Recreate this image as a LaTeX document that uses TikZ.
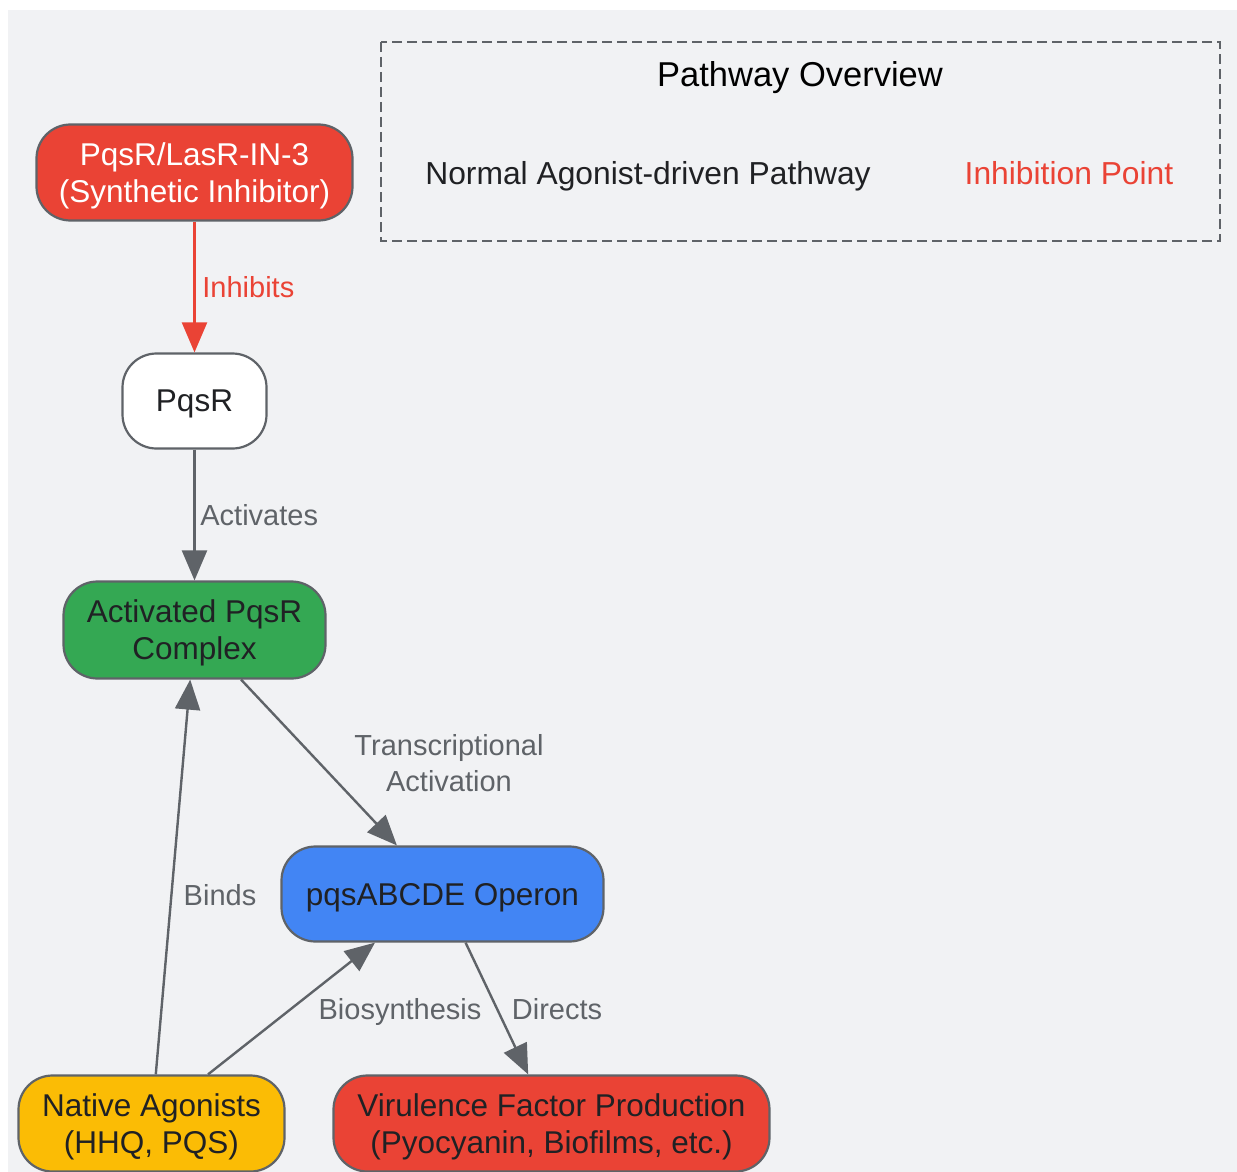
\documentclass[tikz,border=0pt]{standalone}
\usepackage{fontspec}
\setmainfont{Liberation Sans}
\usetikzlibrary{arrows.meta}

\definecolor{bgcol}{HTML}{F1F2F4}
\definecolor{linecol}{HTML}{5F6368}
\definecolor{inhred}{HTML}{EA4335}
\definecolor{actgreen}{HTML}{34A853}
\definecolor{opblue}{HTML}{4285F4}
\definecolor{agoyellow}{HTML}{FBBC05}
\definecolor{inkcol}{HTML}{202124}

\tikzset{
  box/.style={shape=rectangle,rounded corners=17pt,draw=linecol,line width=1.1pt,align=center,inner sep=0pt,text depth=0pt,font=\fontsize{15.75}{18.5}\selectfont,text=inkcol},
  lbl/.style={align=center,text=linecol,inner sep=0pt,text depth=0pt,font=\fontsize{14.5}{18}\selectfont},
  flow/.style={-{Triangle[length=15pt,width=12.5pt]},color=linecol,line width=1.2pt},
}

\begin{document}
\begin{tikzpicture}[x=0.5pt,y=-0.5pt]
\fill[white] (0,0) rectangle (1237,1172);
\fill[bgcol] (8,10) rectangle (1237,1172);
\useasboundingbox (0,0) rectangle (1237,1172);

% legend
\draw[linecol,line width=1.4pt,dash pattern=on 5pt off 2.5pt] (381,42) rectangle (1220,241);
\node[font=\fontsize{17.25}{20}\selectfont,text=black,text depth=0pt] (title) at (800,74) {Pathway Overview};
\node[font=\fontsize{15.9}{18.5}\selectfont,text=inkcol,text depth=0pt] (normal) at (648,173) {Normal Agonist-driven Pathway};
\node[font=\fontsize{15.9}{18.5}\selectfont,text=inhred,text depth=0pt] (inhpt) at (1069,173) {Inhibition Point};

% nodes
\node[box,fill=inhred,text=white,minimum width=158pt,minimum height=48pt] (inh) at (194.5,172.5) {PqsR/LasR-IN-3\\(Synthetic Inhibitor)};
\node[box,fill=white,minimum width=72pt,minimum height=47.5pt] (pqsr) at (194.5,401) {PqsR};
\node[box,fill=actgreen,minimum width=131pt,minimum height=48.5pt] (act) at (194.5,630) {Activated PqsR\\Complex};
\node[box,fill=opblue,minimum width=161pt,minimum height=47.5pt] (op) at (442.5,894) {pqsABCDE Operon};
\node[box,fill=agoyellow,minimum width=133pt,minimum height=48pt] (nat) at (151.5,1123.5) {Native Agonists\\(HHQ, PQS)};
\node[box,fill=inhred,minimum width=218pt,minimum height=48pt] (vir) at (551.5,1123.5) {Virulence Factor Production\\(Pyocyanin, Biofilms, etc.)};

% connectors
\draw [flow,color=inhred] (inh) -- (pqsr);
\draw [flow] (pqsr) -- (act);
\draw [flow] (act) -- (op);
\draw [flow] (nat) -- (act);
\draw [flow] ([xshift=28.25pt]nat.north) -- ([xshift=-33.75pt]op.south);
\draw [flow] (op) -- (vir);

% labels
\node[lbl,text=inhred,anchor=west] (l1) at (202,287) {Inhibits};
\node[lbl,anchor=west] (l2) at (200,515) {Activates};
\node[lbl] (l3) at (449,763) {Transcriptional\\Activation};
\node[lbl] (l4) at (220,895) {Binds};
\node[lbl] (l5) at (400,1009) {Biosynthesis};
\node[lbl] (l6) at (557,1009) {Directs};
\end{tikzpicture}
\end{document}
